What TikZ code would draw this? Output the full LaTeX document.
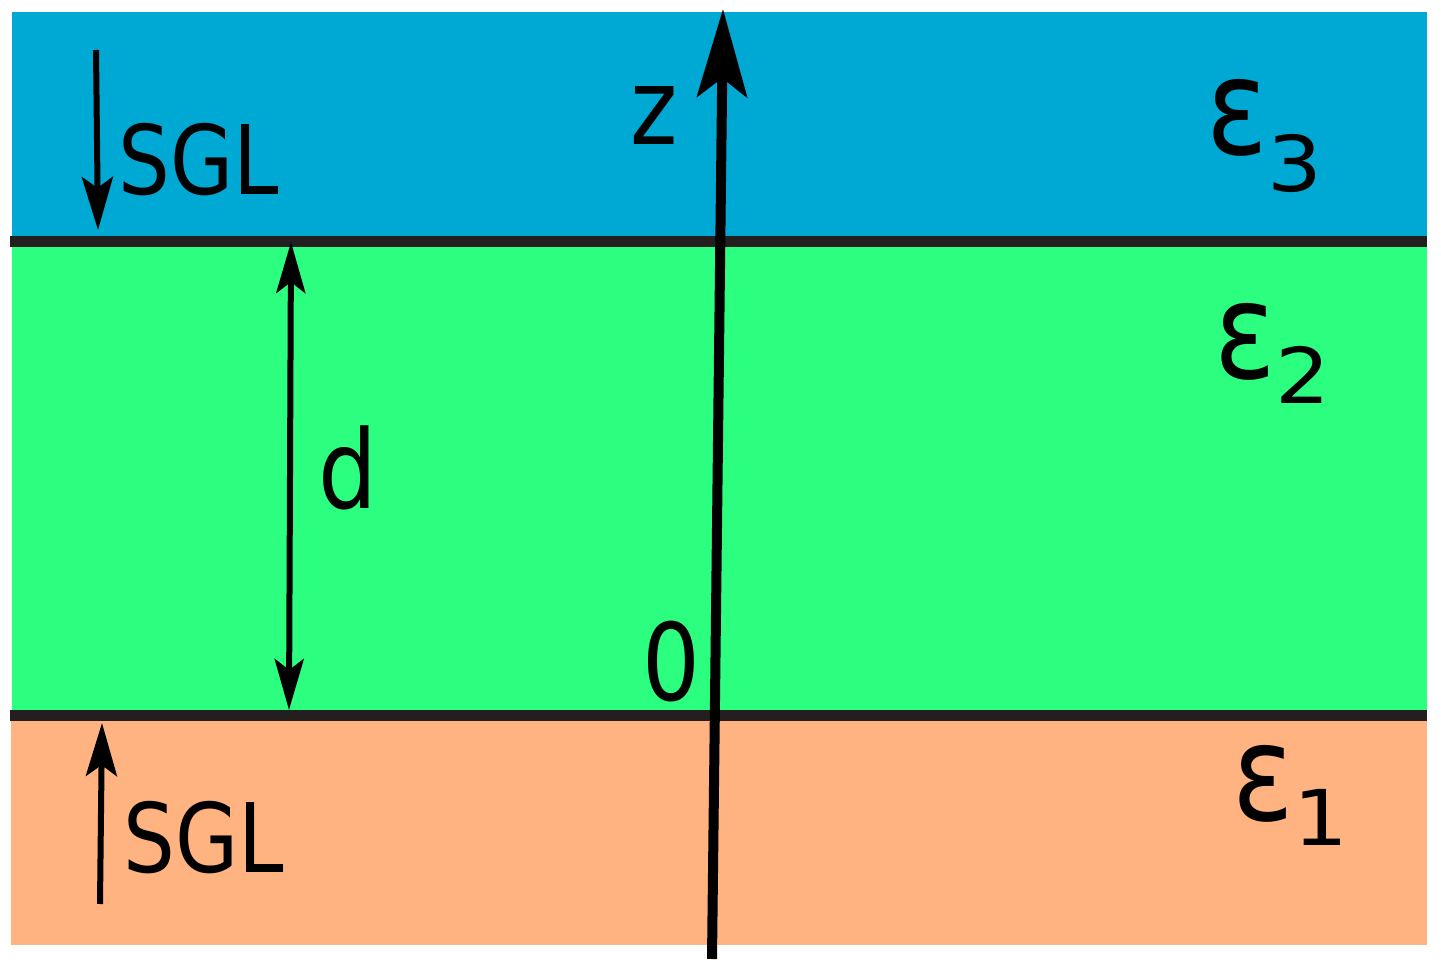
\documentclass[tikz,border=0pt]{standalone}
\usepackage{fontspec}
\usetikzlibrary{arrows.meta}
\newfontfamily\lbl{DejaVu Sans}[FakeStretch=0.85]
\newfontfamily\subf{DejaVu Sans}[FakeStretch=1.12]
\definecolor{topblue}{RGB}{0,168,212}
\definecolor{midgreen}{RGB}{44,255,128}
\definecolor{botorange}{RGB}{255,179,128}
\definecolor{ifline}{RGB}{35,31,32}
\tikzset{
  iface/.style={draw=ifline, line width=11pt},
  zaxis/.style={line width=10pt, -{Stealth[length=88pt,width=50pt,inset=19pt]}},
  sglarrow/.style={line width=6pt, -{Stealth[length=53pt,width=31pt,inset=11pt]}},
  darrow/.style={line width=6pt, {Stealth[length=51pt,width=29pt,inset=11pt]}-{Stealth[length=51pt,width=29pt,inset=11pt]}},
  txt/.style={inner sep=0pt, anchor=base west, font=\lbl\fontsize{96}{110}\selectfont},
  eps/.style={inner sep=0pt, anchor=base west, font=\lbl\fontsize{134}{150}\selectfont},
}
\newcommand{\subs}[2]{\raisebox{-#1pt}{\subf\fontsize{77}{90}\selectfont #2}}
\begin{document}
\begin{tikzpicture}[x=1pt,y=-1pt]
\useasboundingbox (0,0) rectangle (1441,976);
% layers
\fill[topblue] (12,12) rectangle (1427,241);
\fill[midgreen] (12,241) rectangle (1427,716);
\fill[botorange] (11,716) rectangle (1427,945);
% interfaces
\coordinate (i2l) at (10,241.5);  \coordinate (i2r) at (1427,241.5);
\coordinate (i1l) at (10,715.5);  \coordinate (i1r) at (1427,715.5);
\draw[iface] (i2l) -- (i2r);
\draw[iface] (i1l) -- (i1r);
% z axis
\coordinate (zb) at (712,959);
\coordinate (zt) at (723,9);
\draw[zaxis] (zb) -- (zt);
\node[txt, font=\lbl\fontsize{106}{120}\selectfont] (zl) at (630,145) {z};
\node[txt, font=\lbl\fontsize{107}{120}\selectfont] (zero) at (642,700) {0};
% SGL arrows
\coordinate (s3a) at (96,50);  \coordinate (s3b) at (98,230);
\draw[sglarrow] (s3a) -- (s3b);
\node[txt] (sgl3) at (118,195) {SGL};
\coordinate (s1a) at (100,904);  \coordinate (s1b) at (102,723);
\draw[sglarrow] (s1a) -- (s1b);
\node[txt] (sgl1) at (123,872) {SGL};
% thickness d
\coordinate (dt) at (291,242);  \coordinate (db) at (289,710);
\draw[darrow] (db) -- (dt);
\node[txt, font=\lbl\fontsize{109}{120}\selectfont] (dl) at (318,508) {d};
% permittivities
\node[eps] (e3) at (1206,155) {ε\subs{37}{3}};
\node[eps] (e2) at (1214,378) {ε\subs{25}{2}};
\node[eps] (e1) at (1232,820) {ε\subs{25}{1}};
\end{tikzpicture}
\end{document}
